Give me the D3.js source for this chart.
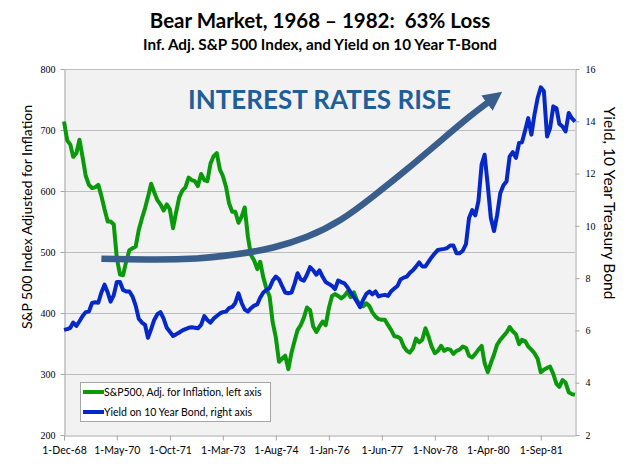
<!doctype html>
<meta charset="utf-8">

<style>
    body {
        margin: 0;
        background: #fff;
    }
    svg text {
        font-family: Lato, "Open Sans", sans-serif;
        fill: #000;
    }
    .num text {
        font-family: "Liberation Serif", serif;
        font-size: 10px;
    }
</style>

<div id="chart"></div>

<script src="https://d3js.org/d3.v7.min.js"></script>

<script>

// S&P 500, inflation adjusted, monthly from Dec 1968
let sp500Real = [
    714, 683, 676, 656, 662, 684, 655, 625, 610, 605,
    606, 610, 592, 570, 550, 550, 545, 490, 463, 462,
    485, 503, 506, 509, 536, 555, 572, 590, 612, 598,
    585, 578, 568, 578, 570, 539, 565, 590, 601, 606,
    622, 618, 616, 608, 628, 618, 616, 645, 657, 662,
    635, 625, 607, 580, 566, 566, 548, 558, 573, 525,
    495, 486, 472, 484, 458, 440, 427, 385, 360, 320,
    325, 330, 308, 335, 355, 372, 380, 392, 409, 405,
    378, 369, 378, 386, 380, 408, 428, 431, 428, 424,
    428, 435, 426, 434, 421, 413, 411, 416, 411, 401,
    394, 390, 389, 389, 380, 372, 362, 361, 358, 345,
    338, 335, 342, 358, 352, 356, 375, 361, 345, 334,
    338, 346, 338, 341, 340, 333, 338, 340, 345, 343,
    330, 327, 333, 340, 346, 318, 303, 318, 332, 348,
    356, 362, 368, 377, 370, 365, 349, 356, 354, 345,
    340, 334, 325, 303, 307, 310, 312, 300, 284, 279,
    290, 286, 270, 267, 266
]

// 10 year bond yield, %, same months
let bondYield = [
    6.02, 6.05, 6.10, 6.30, 6.17, 6.35, 6.55, 6.70, 6.72, 7.05,
    7.08, 7.06, 7.45, 7.75, 7.45, 7.10, 7.35, 7.85, 7.85, 7.55,
    7.49, 7.49, 7.30, 6.95, 6.45, 6.30, 6.21, 5.72, 6.05, 6.40,
    6.62, 6.70, 6.45, 6.10, 5.95, 5.79, 5.85, 5.92, 6.00, 6.05,
    6.10, 6.12, 6.10, 6.08, 6.21, 6.55, 6.40, 6.30, 6.45, 6.55,
    6.65, 6.70, 6.72, 6.85, 6.90, 7.05, 7.42, 7.05, 6.80, 6.72,
    6.85, 6.95, 7.00, 7.25, 7.45, 7.55, 7.62, 7.90, 8.06, 7.95,
    7.70, 7.45, 7.42, 7.45, 7.80, 8.19, 7.95, 7.90, 8.13, 8.42,
    8.30, 8.13, 8.30, 8.05, 7.85, 7.78, 7.70, 7.58, 7.91, 7.85,
    7.80, 7.65, 7.45, 7.28, 7.10, 6.89, 7.17, 7.40, 7.49, 7.38,
    7.49, 7.30, 7.34, 7.36, 7.32, 7.50, 7.60, 7.70, 7.95, 8.02,
    8.06, 8.20, 8.30, 8.44, 8.60, 8.45, 8.45, 8.63, 8.80, 8.95,
    9.08, 9.10, 9.12, 9.15, 9.25, 9.25, 8.95, 8.95, 9.05, 9.30,
    10.30, 10.60, 10.40, 10.95, 12.35, 12.72, 11.55, 10.30, 9.80, 10.40,
    11.25, 11.55, 11.70, 12.66, 12.82, 12.60, 13.17, 13.20, 13.65, 14.12,
    13.49, 14.25, 14.89, 15.30, 15.15, 13.42, 13.74, 14.57, 14.50, 13.90,
    13.80, 13.61, 14.32, 14.12, 13.99
]

let firstMonth = new Date(1968, 11, 1)
let tickDates = ["1968-12-01", "1970-05-01", "1971-10-01", "1973-03-01", "1974-08-01",
                 "1976-01-01", "1977-06-01", "1978-11-01", "1980-04-01", "1981-09-01"]
let leftTicks = [200, 300, 400, 500, 600, 700, 800]
let rightTicks = [2, 4, 6, 8, 10, 12, 14, 16]

// the "rates rise" arrow: month index from Dec 1968, and left axis value
let arrowMonths = [12, 40, 57, 67, 78, 89, 99, 110, 121, 131, 136]
let arrowValues = [489, 486, 497, 506, 523, 551, 590, 635, 683, 726, 745]

let width = 640, height = 466
let plot = {left: 64, right: 575, top: 69, bottom: 435}

let months = sp500Real.map((d, i) => d3.timeMonth.offset(firstMonth, i))

let svg = d3.select("#chart")
    .append("svg")
    .attr("width", width)
    .attr("height", height)

let defs = svg.append("defs")
defs.append("marker")
    .attr("id", "head")
    .attr("markerUnits", "userSpaceOnUse")
    .attr("viewBox", "0 -10 19 20")
    .attr("markerWidth", 19)
    .attr("markerHeight", 20)
    .attr("refX", 1)
    .attr("refY", 0)
    .attr("orient", "auto")
    .append("path")
    .attr("d", "M0,-9.5L19,0L0,9.5Z")
    .attr("fill", "#3a5e8c")

let x = d3.scaleTime()
    .domain([months[0], months[months.length - 1]])
    .range([plot.left, plot.right])
let yLeft = d3.scaleLinear().domain([200, 800]).range([plot.bottom, plot.top])
let yRight = d3.scaleLinear().domain([2, 16]).range([plot.bottom, plot.top])

svg.append("rect")
    .attr("x", plot.left)
    .attr("y", plot.top)
    .attr("width", plot.right - plot.left)
    .attr("height", plot.bottom - plot.top)
    .attr("fill", "#f2f2f2")

svg.append("g")
    .selectAll("line")
    .data(leftTicks.slice(1))
    .join("line")
    .attr("x1", plot.left)
    .attr("x2", plot.right)
    .attr("y1", d => yLeft(d) + 0.5)
    .attr("y2", d => yLeft(d) + 0.5)
    .attr("stroke", "#bdbdbd")

// axes
let axisColor = "#a6a6a6"
function styleAxis(g) {
    g.selectAll(".domain").attr("stroke", axisColor)
    g.selectAll(".tick line").attr("stroke", axisColor)
}

svg.append("g")
    .attr("class", "num")
    .attr("transform", "translate(" + (plot.left + 0.5) + ",0)")
    .call(d3.axisLeft(yLeft).tickValues(leftTicks).tickSize(4).tickSizeOuter(0).tickPadding(5))
    .call(styleAxis)

svg.append("g")
    .attr("class", "num")
    .attr("transform", "translate(" + (plot.right + 0.5) + ",0)")
    .call(d3.axisRight(yRight).tickValues(rightTicks).tickSize(4).tickSizeOuter(0).tickPadding(6))
    .call(styleAxis)

svg.append("g")
    .attr("transform", "translate(0," + (plot.bottom + 0.5) + ")")
    .call(d3.axisBottom(x)
        .tickValues(tickDates.map(d => d3.timeParse("%Y-%m-%d")(d)))
        .tickFormat(d3.timeFormat("%-d-%b-%y"))
        .tickSize(5).tickSizeOuter(0).tickPadding(6))
    .call(styleAxis)
    .call(g => g.selectAll("text").attr("font-size", 10.5))

// series
let lineLeft = d3.line().x((d, i) => x(months[i])).y(d => yLeft(d))
let lineRight = d3.line().x((d, i) => x(months[i])).y(d => yRight(d))

svg.append("path")
    .datum(sp500Real)
    .attr("d", lineLeft)
    .attr("fill", "none")
    .attr("stroke", "#0a990a")
    .attr("stroke-width", 4)
    .attr("stroke-linejoin", "round")

svg.append("path")
    .datum(bondYield)
    .attr("d", lineRight)
    .attr("fill", "none")
    .attr("stroke", "#0628c8")
    .attr("stroke-width", 4)
    .attr("stroke-linejoin", "round")

// annotation arrow
let arrowLine = d3.line()
    .x(d => x(d3.timeMonth.offset(firstMonth, d[0])))
    .y(d => yLeft(d[1]))
    .curve(d3.curveBasis)

svg.append("path")
    .datum(d3.zip(arrowMonths, arrowValues))
    .attr("d", arrowLine)
    .attr("fill", "none")
    .attr("stroke", "#3a5e8c")
    .attr("stroke-width", 6.5)
    .attr("marker-end", "url(#head)")

svg.append("text")
    .attr("x", 188)
    .attr("y", 109)
    .attr("font-size", 26)
    .attr("font-weight", "bold")
    .style("fill", "#1f5f99")
    .text("INTEREST RATES RISE")

// legend
let legend = svg.append("g")
legend.append("rect")
    .attr("x", 80.5)
    .attr("y", 382.5)
    .attr("width", 190)
    .attr("height", 39)
    .attr("fill", "#fff")
    .attr("stroke", "#a6a6a6")

let legendItems = [
    {label: "S&P500, Adj. for Inflation, left axis", color: "#0a990a"},
    {label: "Yield on 10 Year Bond, right axis", color: "#0628c8"}
]
legendItems.forEach((item, i) => {
    let y = 392 + i * 20
    legend.append("line")
        .attr("x1", 83).attr("x2", 104)
        .attr("y1", y).attr("y2", y)
        .attr("stroke", item.color)
        .attr("stroke-width", 4)
    legend.append("text")
        .attr("x", 104)
        .attr("y", y + 4)
        .attr("font-size", 10.5)
        .text(item.label)
})

// titles
svg.append("text")
    .attr("x", 320)
    .attr("y", 28)
    .attr("text-anchor", "middle")
    .attr("font-size", 20.5)
    .attr("font-weight", "bold")
    .style("white-space", "pre")
    .text("Bear Market, 1968 \u2013 1982:  63% Loss")

svg.append("text")
    .attr("x", 320)
    .attr("y", 50)
    .attr("text-anchor", "middle")
    .attr("font-size", 15.3)
    .attr("font-weight", "bold")
    .text("Inf. Adj. S&P 500 Index, and Yield on 10 Year T-Bond")

svg.append("text")
    .attr("transform", "translate(32,217) rotate(-90)")
    .attr("text-anchor", "middle")
    .attr("font-size", 14)
    .text("S&P 500 Index Adjusted for Inflation")

svg.append("text")
    .attr("transform", "translate(604,203) rotate(90)")
    .attr("text-anchor", "middle")
    .attr("font-size", 15.5)
    .text("Yield, 10 Year Treasury Bond")

</script>
